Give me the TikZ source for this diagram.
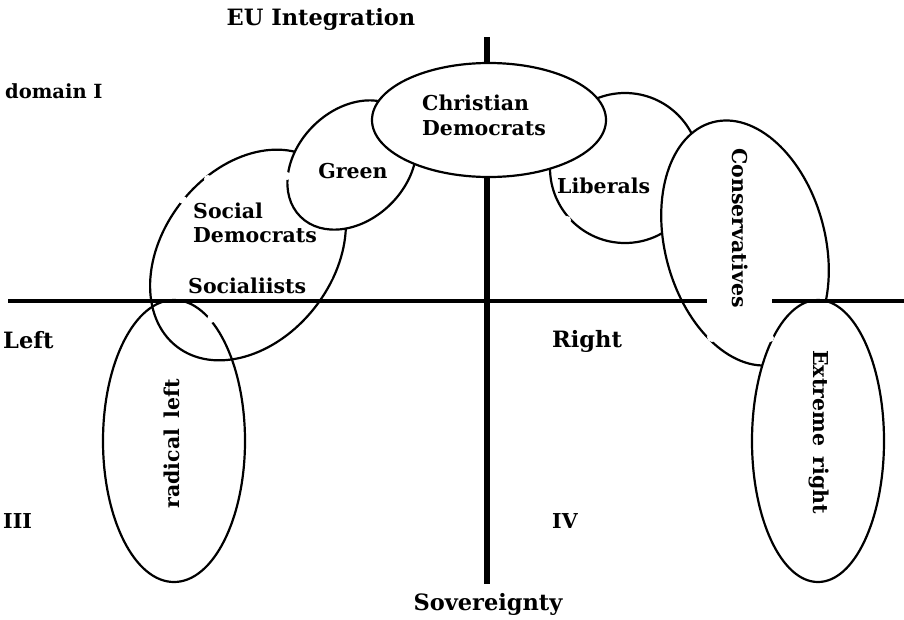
\documentclass[tikz,border=0pt]{standalone}
\usepackage{fontspec}
\setmainfont{DejaVu Serif}
\begin{document}
\begin{tikzpicture}[x=1pt,y=-1pt,
  lbl/.style={font=\bfseries\fontsize{20.5}{24}\selectfont, inner sep=0pt, text=black},
  biglbl/.style={lbl, font=\bfseries\fontsize{22.5}{26}\selectfont},
  ell/.style={line width=2.2pt},
  axisline/.style={line width=4.5pt},
  vaxisline/.style={line width=5.5pt},
  gap/.style={fill=white}]
\useasboundingbox[fill=white] (0,0) rectangle (904,619);
% ellipses
\draw[ell, rotate around={52:(248,255)}] (248,255) ellipse (116pt and 85pt);
\draw[ell] (174,441) ellipse (71pt and 141pt);
\draw[ell, fill=white, rotate around={45:(352,165)}] (352,165) ellipse (73pt and 55pt);
\draw[ell] (625,168) circle (75pt);
\draw[ell, fill=white] (489,120) ellipse (117pt and 57pt);
\draw[ell, fill=white, rotate around={15:(745,243)}] (745,243) ellipse (80pt and 125pt);
\draw[ell, fill=white] (818,441) ellipse (66pt and 141pt);
% axes
\coordinate (L) at (8,301);
\coordinate (R) at (904,301);
\coordinate (Lc) at (707,301);
\coordinate (Rc) at (772,301);
\coordinate (T) at (487,37);
\coordinate (Tc) at (487,63);
\coordinate (Bc) at (487,177);
\coordinate (B) at (487,584);
\draw[axisline] (L) -- (Lc);
\draw[axisline] (Rc) -- (R);
\draw[vaxisline] (T) -- (Tc);
\draw[vaxisline] (Bc) -- (B);
% gaps
\fill[gap] (766,142) circle (5pt);
\fill[gap] (712,337) circle (5pt);
\fill[gap] (770,338) circle (4pt);
\fill[gap] (183,200) circle (4pt);
\fill[gap] (208,179) circle (4pt);
\fill[gap] (328,277) circle (4pt);
\fill[gap] (211,319) circle (4pt);
\fill[gap] (287,176) circle (4pt);
\fill[gap] (567,220) circle (4pt);
% labels
\node[biglbl, anchor=base] (eu) at (321,25) {EU Integration};
\node[biglbl, anchor=base] (sov) at (488,610) {Sovereignty};
\node[lbl, font=\bfseries\fontsize{19.5}{23}\selectfont, anchor=base west] (dom) at (5,98) {domain I};
\node[biglbl, anchor=base west] (left) at (3,348) {Left};
\node[biglbl, anchor=base west] (right) at (552,347) {Right};
\node[lbl, anchor=base west] (iii) at (3,528) {III};
\node[lbl, anchor=base west] (iv) at (552,528) {IV};
\node[lbl, anchor=base west] (cd1) at (422,110) {Christian};
\node[lbl, anchor=base west] (cd2) at (422,135) {Democrats};
\node[lbl, anchor=base] (green) at (353,178) {Green};
\node[lbl, anchor=base west] (sd1) at (193,218) {Social};
\node[lbl, anchor=base west] (sd2) at (193,242) {Democrats};
\node[lbl, anchor=base west] (soc) at (188,293) {Socialiists};
\node[lbl, anchor=base west] (lib) at (557,193) {Liberals};
\node[lbl, rotate=-90] (con) at (740,228) {Conservatives};
\node[lbl, rotate=-90] (ext) at (819,432) {Extreme\hspace{0.5em}right};
\node[lbl, rotate=90] (rad) at (172,444) {radical\hspace{0.5em}left};
\end{tikzpicture}
\end{document}
